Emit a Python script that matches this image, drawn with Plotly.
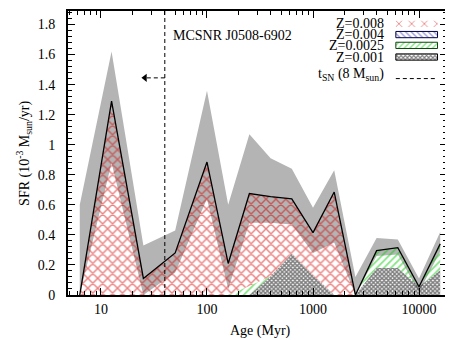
import numpy as np
import plotly.graph_objects as go

# SFH bins (log age in yr) and SFR in 1e-3 Msun/yr
log_age = [6.8, 7.1, 7.4, 7.7, 8.0, 8.2, 8.4, 8.6, 8.8, 9.0, 9.2, 9.4, 9.6, 9.8, 10.0, 10.2]
sfr_z008 = [0, 1.29, 0.11, 0.28, 0.885, 0.21, 0.615, 0.53, 0.365, 0.285, 0.685, 0, 0, 0, 0, 0]
sfr_z004 = [0, 0, 0, 0, 0, 0, 0, 0, 0, 0, 0, 0, 0, 0, 0, 0]
sfr_z0025 = [0, 0, 0, 0, 0, 0, 0.06, 0, 0, 0, 0, 0, 0.115, 0.135, 0, 0.175]
sfr_z001 = [0, 0, 0, 0, 0, 0, 0, 0.125, 0.275, 0.13, 0, 0, 0.18, 0.18, 0.055, 0.165]
sfr_low = [0, 0.88, 0, 0.15, 0.64, 0.04, 0.48, 0.48, 0.47, 0.28, 0.35, 0, 0.26, 0.27, 0.02, 0.29]
sfr_high = [0.6, 1.62, 0.33, 0.43, 1.36, 0.6, 1.07, 0.91, 0.84, 0.58, 0.83, 0.12, 0.38, 0.37, 0.11, 0.42]
t_sn = 40      # Myr, lifetime of 8 Msun star
t_arrow = 26   # Myr, arrow tip
y_arrow = 1.445
ymax = 1.89

age = 10 ** (np.array(log_age) - 6)  # Myr
s1 = np.array(sfr_z001)
s2 = s1 + np.array(sfr_z0025)
s3 = s2 + np.array(sfr_z004)
s4 = s3 + np.array(sfr_z008)

FONT = 'Liberation Serif'
RED = '#d40000'
GREEN = '#11cc11'
fig = go.Figure()

# error band
fig.add_trace(go.Scatter(x=age, y=sfr_low, mode='lines', line=dict(width=0), showlegend=False, hoverinfo='skip'))
fig.add_trace(go.Scatter(x=age, y=sfr_high, mode='lines', line=dict(width=0), fill='tonexty',
                         fillcolor='#b4b4b4', showlegend=False, hoverinfo='skip'))

# stacked metallicity contributions
fig.add_trace(go.Scatter(x=age, y=s1, mode='lines', line=dict(width=0), fill='tozeroy', fillcolor='rgba(0,0,0,0)',
                         fillpattern=dict(shape='x', fgcolor='black', size=3, solidity=0.75), showlegend=False))
fig.add_trace(go.Scatter(x=age, y=s2, mode='lines', line=dict(width=0), fill='tonexty', fillcolor='rgba(0,0,0,0)',
                         fillpattern=dict(shape='/', fgcolor=GREEN, size=5, solidity=0.35), showlegend=False))
fig.add_trace(go.Scatter(x=age, y=s3, mode='lines', line=dict(width=0), fill='tonexty', fillcolor='rgba(0,0,0,0)',
                         fillpattern=dict(shape='\\', fgcolor='#2222aa', size=5, solidity=0.3), showlegend=False))
fig.add_trace(go.Scatter(x=age, y=s4, mode='lines', line=dict(width=0), fill='tonexty', fillcolor='rgba(0,0,0,0)',
                         fillpattern=dict(shape='x', fgcolor=RED, size=7, solidity=0.36), showlegend=False))
# best fit total
fig.add_trace(go.Scatter(x=age, y=s4, mode='lines', line=dict(color='black', width=1.3), showlegend=False))

# t_SN line and arrow
fig.add_trace(go.Scatter(x=[t_sn, t_sn], y=[0, ymax], mode='lines',
                         line=dict(color='black', width=1, dash='4px,3px'), showlegend=False))
fig.add_trace(go.Scatter(x=[t_sn, t_arrow], y=[y_arrow, y_arrow], mode='lines',
                         line=dict(color='black', width=1, dash='4px,3px'), showlegend=False))
fig.add_trace(go.Scatter(x=[t_arrow], y=[y_arrow], mode='markers',
                         marker=dict(symbol='triangle-left', size=7, color='black'), showlegend=False))

# hand-made gnuplot style key (text left, sample right)
key_labels = ['Z=0.008', 'Z=0.004', 'Z=0.0025', 'Z=0.001', 't<sub>SN</sub> (8 M<sub>sun</sub>)']
key_y = [0.955, 0.917, 0.879, 0.838, 0.778]
key_pat = [dict(shape='x', fgcolor=RED, size=9, solidity=0.18),
           dict(shape='\\', fgcolor='#2222aa', size=4, solidity=0.3),
           dict(shape='/', fgcolor=GREEN, size=4, solidity=0.35),
           dict(shape='x', fgcolor='black', size=3, solidity=0.6)]
key_edge = ['rgba(0,0,0,0)', '#000044', '#114411', 'black']
bx0, bx1, bh = 0.865, 0.975, 0.011
for i in range(4):
    yc = key_y[i]
    fig.add_trace(go.Scatter(x=[bx0, bx1, bx1, bx0, bx0], y=[yc - bh, yc - bh, yc + bh, yc + bh, yc - bh],
                             xaxis='x2', yaxis='y2', mode='lines', fill='toself', fillcolor='rgba(0,0,0,0)',
                             fillpattern=key_pat[i], line=dict(color=key_edge[i], width=1), showlegend=False))
fig.add_trace(go.Scatter(x=[bx0, bx1], y=[0.762, 0.762], xaxis='x2', yaxis='y2', mode='lines',
                         line=dict(color='black', width=1, dash='4px,3px'), showlegend=False))
for lab, yc in zip(key_labels, key_y):
    fig.add_annotation(text=lab, xref='paper', yref='paper', x=0.84, y=yc, xanchor='right', yanchor='middle',
                       showarrow=False, font=dict(family=FONT, size=14, color='black'))

fig.add_annotation(text='MCSNR J0508-6902', xref='paper', yref='paper', x=0.271, y=0.914,
                   xanchor='left', yanchor='middle', showarrow=False, font=dict(family=FONT, size=14, color='black'))
fig.add_annotation(text='SFR (10<sup>-3</sup> M<sub>sun</sub>/yr)', xref='paper', yref='paper', x=-0.148, y=0.5,
                   textangle=-90, showarrow=False, font=dict(family=FONT, size=14, color='black'))
fig.add_annotation(text='Age (Myr)', xref='paper', yref='paper', x=0.507, y=-0.126, yanchor='middle',
                   showarrow=False, font=dict(family=FONT, size=14, color='black'))

minor_x = [m * 10 ** d for d in range(0, 5) for m in range(2, 10)]
# page body has an 8px margin, so the figure is sized to fit inside the window
fig.update_layout(
    width=445, height=332, margin=dict(l=60, r=6, t=1, b=45),
    paper_bgcolor='white', plot_bgcolor='white',
    font=dict(family=FONT, size=14, color='black'),
    xaxis=dict(type='log', range=[0.689, 4.264], tickvals=[10, 100, 1000, 10000], ticktext=['10', '100', '1000', '10000'],
               ticks='inside', ticklen=7, tickwidth=1, tickcolor='black', mirror='allticks',
               showline=True, linecolor='black', linewidth=2, showgrid=False, zeroline=False,
               minor=dict(tickvals=minor_x, ticks='inside', ticklen=4, tickcolor='black', showgrid=False)),
    yaxis=dict(range=[0, ymax], tick0=0, dtick=0.2, ticks='inside', ticklen=7, tickwidth=1, tickcolor='black',
               mirror='allticks', showline=True, linecolor='black', linewidth=2, showgrid=False, zeroline=False,
               ticklabelstandoff=8,
               minor=dict(dtick=0.04, ticks='inside', ticklen=4, tickcolor='black', showgrid=False)),
    xaxis2=dict(overlaying='x', range=[0, 1], visible=False, fixedrange=True),
    yaxis2=dict(overlaying='y', range=[0, 1], visible=False, fixedrange=True),
)

fig.write_html("out.html")
